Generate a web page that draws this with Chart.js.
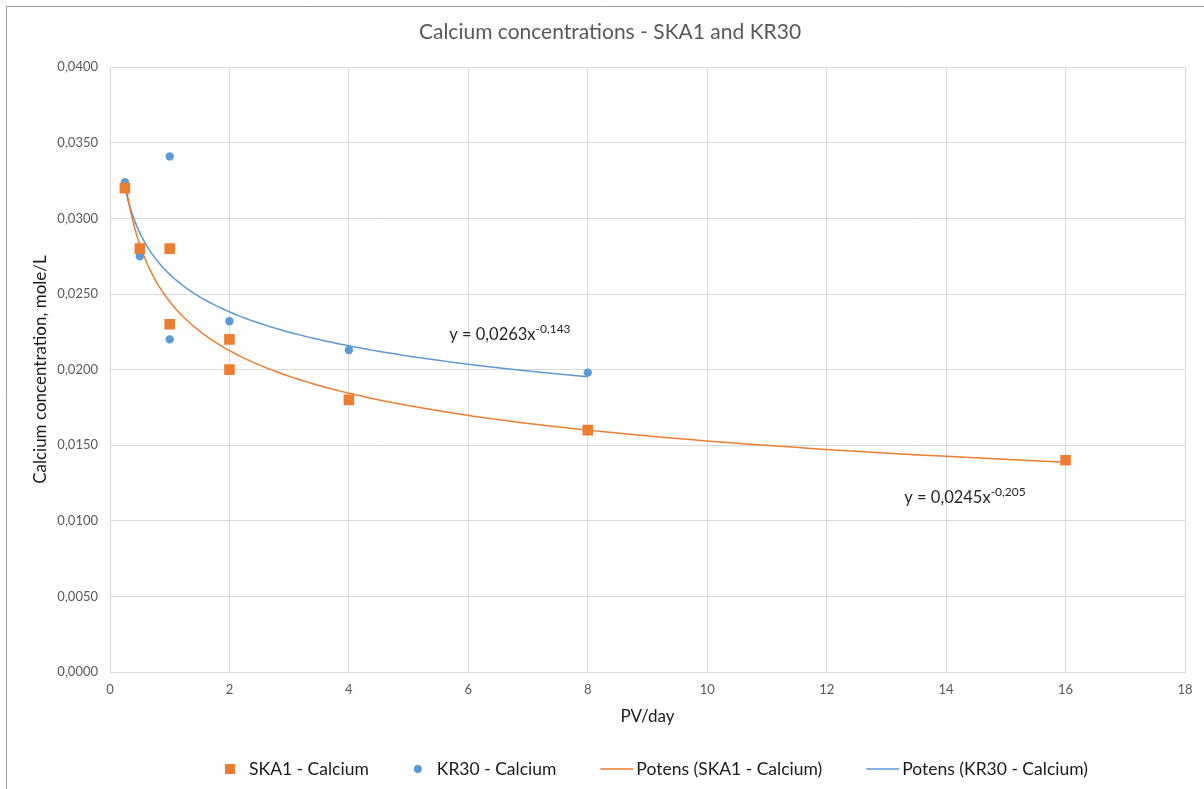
<!DOCTYPE html>
<html>
<head>
<meta charset="utf-8">
<title>Calcium concentrations - SKA1 and KR30</title>
<script src="https://cdn.jsdelivr.net/npm/chart.js@4.4.1/dist/chart.umd.min.js"></script>
<style>
  body { margin: 0; background: #fff; }
  canvas { display: block; }
</style>
</head>
<body>
<canvas id="caChart" width="1204" height="789"></canvas>
<script>
  // PV/day vs calcium concentration (mole/L)
  var ska1X = [0.25, 0.5, 1, 1, 2, 2, 4, 8, 16];
  var ska1Y = [0.0320, 0.0280, 0.0280, 0.0230, 0.0220, 0.0200, 0.0180, 0.0160, 0.0140];
  var kr30X = [0.25, 0.5, 1, 1, 2, 4, 8];
  var kr30Y = [0.0324, 0.0275, 0.0341, 0.0220, 0.0232, 0.0213, 0.0198];

  // power trendlines, y = a * x^b  ->  [a, b]
  var ska1Fit = [0.0245, -0.205];
  var kr30Fit = [0.0263, -0.143];

  var orange = '#ED7D31';
  var blue = '#5B9BD5';
  var gridColor = '#d9d9d9';
  var tickColor = '#595959';

  Chart.defaults.font.family = 'Lato, "Open Sans", sans-serif';

  function toPoints(xs, ys) {
    return xs.map(function (x, i) { return { x: x, y: ys[i] }; });
  }

  // trendline over the x range of the series it was fitted to
  function powerCurve(fit, xs) {
    var x0 = Math.min.apply(null, xs), x1 = Math.max.apply(null, xs);
    var pts = [];
    var n = 150;
    for (var i = 0; i <= n; i++) {
      var x = x0 * Math.pow(x1 / x0, i / n);
      pts.push({ x: x, y: fit[0] * Math.pow(x, fit[1]) });
    }
    return pts;
  }

  function comma(v, d) {
    return v.toFixed(d).replace('.', ',');
  }

  var chartBackground = {
    id: 'chartBackground',
    beforeDraw: function (chart) {
      var ctx = chart.ctx;
      ctx.save();
      ctx.fillStyle = '#fff';
      ctx.fillRect(0, 0, chart.width, chart.height);
      ctx.strokeStyle = '#9a9a9a';
      ctx.lineWidth = 1;
      ctx.beginPath();
      ctx.moveTo(6.5, chart.height);
      ctx.lineTo(6.5, 6.5);
      ctx.lineTo(chart.width, 6.5);
      ctx.stroke();
      ctx.restore();
    }
  };

  // equation text next to each trendline
  var trendLabels = {
    id: 'trendLabels',
    afterDatasetsDraw: function (chart, args, opts) {
      var ctx = chart.ctx;
      var xs = chart.scales.x, ys = chart.scales.y;
      opts.items.forEach(function (it) {
        var px = xs.getPixelForValue(it.x);
        var py = ys.getPixelForValue(it.y);
        var main = 'y = ' + comma(it.fit[0], 4) + 'x';
        ctx.save();
        ctx.fillStyle = '#262626';
        ctx.textBaseline = 'middle';
        ctx.textAlign = 'left';
        ctx.font = '16.5px ' + Chart.defaults.font.family;
        ctx.fillText(main, px, py);
        var w = ctx.measureText(main).width;
        ctx.font = '12px ' + Chart.defaults.font.family;
        ctx.fillText(comma(it.fit[1], 3), px + w, py - 6);
        ctx.restore();
      });
    }
  };

  // legend row under the axis title
  var bottomLegend = {
    id: 'bottomLegend',
    afterDraw: function (chart, args, opts) {
      var ctx = chart.ctx;
      var area = chart.chartArea;
      var sets = chart.data.datasets;
      ctx.save();
      ctx.font = opts.fontSize + 'px ' + Chart.defaults.font.family;
      ctx.textBaseline = 'middle';
      ctx.textAlign = 'left';
      var widths = sets.map(function (ds) {
        var zone = ds.showLine ? opts.lineZone : opts.pointZone;
        return zone + ctx.measureText(ds.label).width;
      });
      var total = widths.reduce(function (a, b) { return a + b; }, 0) + opts.gap * (sets.length - 1);
      var x = (area.left + area.right) / 2 + opts.shift - total / 2;
      var y = opts.y;
      sets.forEach(function (ds, i) {
        if (ds.showLine) {
          ctx.strokeStyle = ds.borderColor;
          ctx.lineWidth = ds.borderWidth;
          ctx.beginPath();
          ctx.moveTo(x, y);
          ctx.lineTo(x + opts.lineZone - 3, y);
          ctx.stroke();
          ctx.fillStyle = '#1a1a1a';
          ctx.fillText(ds.label, x + opts.lineZone, y);
        } else {
          ctx.fillStyle = ds.backgroundColor;
          if (ds.pointStyle === 'rect') {
            ctx.fillRect(x, y - 5, 10, 10);
          } else {
            ctx.beginPath();
            ctx.arc(x + 5, y, 4, 0, Math.PI * 2);
            ctx.fill();
          }
          ctx.fillStyle = '#1a1a1a';
          ctx.fillText(ds.label, x + opts.pointZone, y);
        }
        x += widths[i] + opts.gap;
      });
      ctx.restore();
    }
  };

  var ctx = document.getElementById('caChart').getContext('2d');
  var caChart = new Chart(ctx, {
    type: 'scatter',
    data: {
      datasets: [
        {
          label: 'SKA1 - Calcium',
          data: toPoints(ska1X, ska1Y),
          pointStyle: 'rect',
          pointRadius: 7.5,
          pointHoverRadius: 7.5,
          backgroundColor: orange,
          borderColor: orange,
          borderWidth: 0,
          order: 0
        },
        {
          label: 'KR30 - Calcium',
          data: toPoints(kr30X, kr30Y),
          pointStyle: 'circle',
          pointRadius: 4.2,
          pointHoverRadius: 4.2,
          backgroundColor: blue,
          borderColor: blue,
          borderWidth: 0,
          order: 0
        },
        {
          label: 'Potens (SKA1 - Calcium)',
          data: powerCurve(ska1Fit, ska1X),
          showLine: true,
          pointRadius: 0,
          borderColor: orange,
          backgroundColor: orange,
          borderWidth: 1.5,
          tension: 0,
          order: 1
        },
        {
          label: 'Potens (KR30 - Calcium)',
          data: powerCurve(kr30Fit, kr30X),
          showLine: true,
          pointRadius: 0,
          borderColor: blue,
          backgroundColor: blue,
          borderWidth: 1.5,
          tension: 0,
          order: 1
        }
      ]
    },
    options: {
      responsive: false,
      animation: false,
      layout: { padding: { left: 16, right: 0, top: 0, bottom: 55 } },
      plugins: {
        legend: { display: false },
        tooltip: { enabled: false },
        title: {
          display: true,
          text: 'Calcium concentrations - SKA1 and KR30',
          color: tickColor,
          font: { size: 21, weight: 'normal' },
          padding: { top: 20, bottom: 22 }
        },
        trendLabels: {
          items: [
            { fit: kr30Fit, x: 5.68, y: 0.0223 },
            { fit: ska1Fit, x: 13.30, y: 0.0115 }
          ]
        },
        bottomLegend: { y: 769, fontSize: 17.5, pointZone: 24, lineZone: 36, gap: 44, shift: 9 }
      },
      scales: {
        x: {
          type: 'linear',
          min: 0,
          max: 18,
          afterFit: function (scale) {
            scale.height = 62;
            scale.paddingRight = 19;
          },
          ticks: { stepSize: 2, color: tickColor, font: { size: 13 }, padding: 10 },
          grid: { color: gridColor, drawTicks: false },
          border: { color: gridColor },
          title: {
            display: true,
            text: 'PV/day',
            color: '#1a1a1a',
            font: { size: 17 },
            padding: { top: 0, bottom: 7 }
          }
        },
        y: {
          min: 0,
          max: 0.04,
          afterFit: function (scale) { scale.width = 94; },
          ticks: {
            stepSize: 0.005,
            color: tickColor,
            font: { size: 13 },
            padding: 12,
            callback: function (v) { return comma(v, 4); }
          },
          grid: { color: gridColor, drawTicks: false },
          border: { color: gridColor },
          title: {
            display: true,
            text: 'Calcium concentration, mole/L',
            color: '#1a1a1a',
            font: { size: 17 },
            padding: { top: 14, bottom: 0 }
          }
        }
      }
    },
    plugins: [chartBackground, trendLabels, bottomLegend]
  });
</script>
</body>
</html>
